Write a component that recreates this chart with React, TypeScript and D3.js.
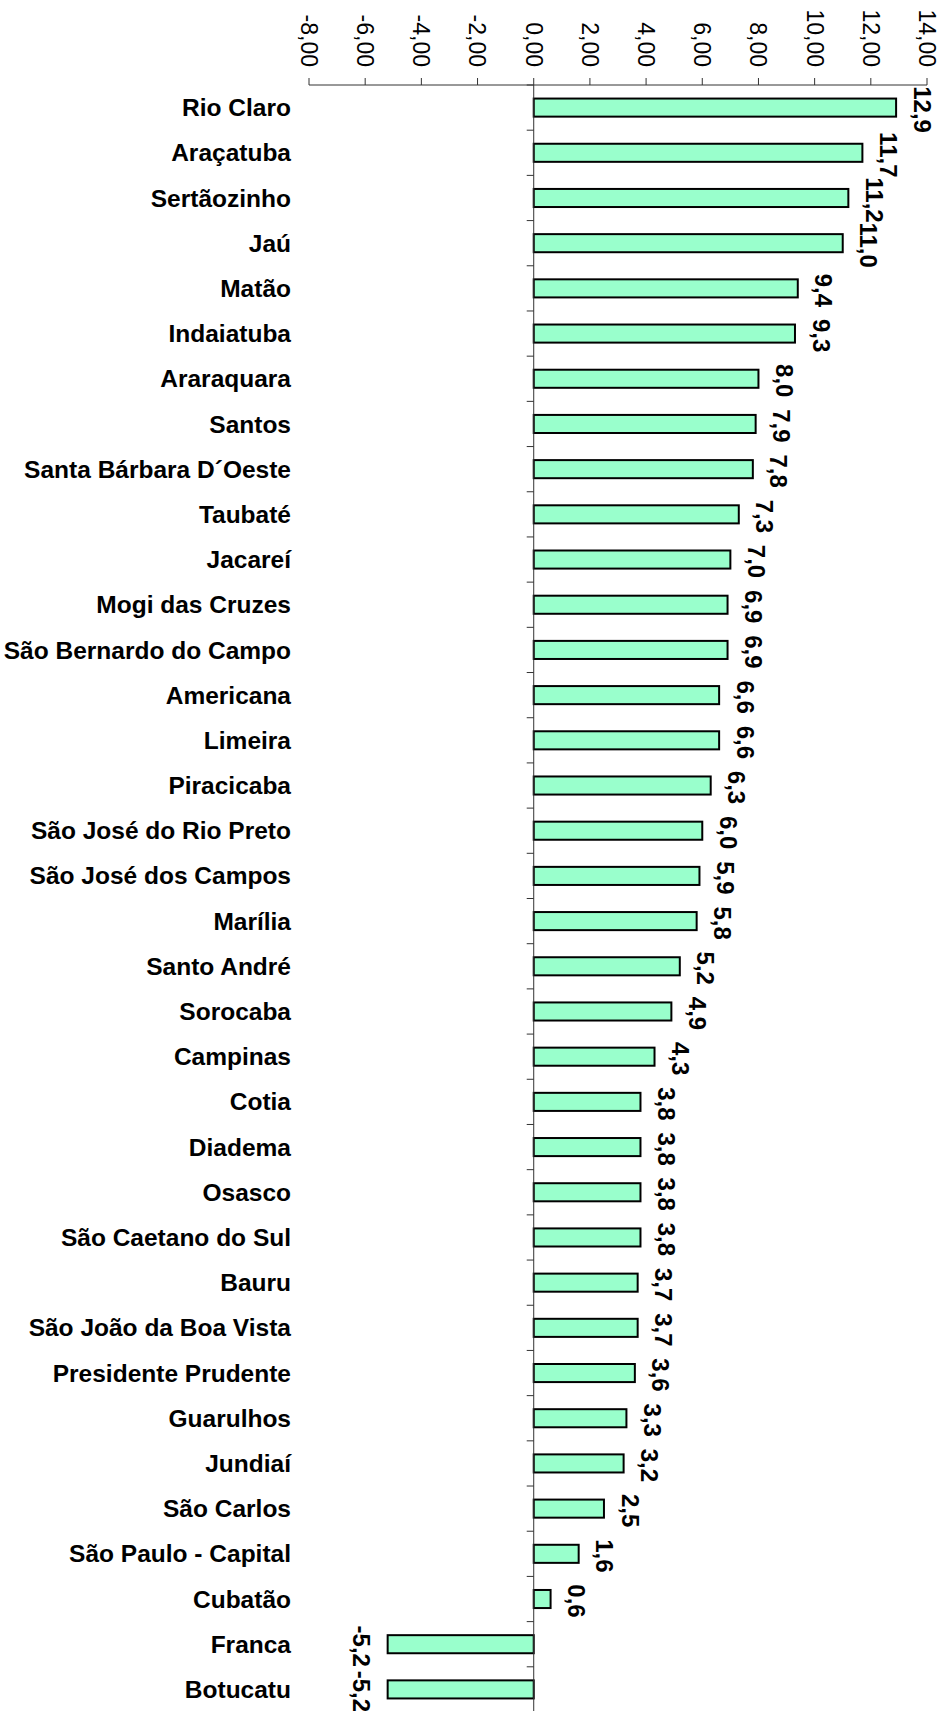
import { useEffect, useRef } from "react";
import * as d3 from "d3";

const cities = [
  "Rio Claro", "Araçatuba", "Sertãozinho", "Jaú", "Matão", "Indaiatuba", "Araraquara",
  "Santos", "Santa Bárbara D´Oeste", "Taubaté", "Jacareí", "Mogi das Cruzes",
  "São Bernardo do Campo", "Americana", "Limeira", "Piracicaba", "São José do Rio Preto",
  "São José dos Campos", "Marília", "Santo André", "Sorocaba", "Campinas", "Cotia",
  "Diadema", "Osasco", "São Caetano do Sul", "Bauru", "São João da Boa Vista",
  "Presidente Prudente", "Guarulhos", "Jundiaí", "São Carlos", "São Paulo - Capital",
  "Cubatão", "Franca", "Botucatu",
];

const values = [
  12.9, 11.7, 11.2, 11.0, 9.4, 9.3, 8.0, 7.9, 7.8, 7.3, 7.0, 6.9, 6.9, 6.6, 6.6, 6.3,
  6.0, 5.9, 5.8, 5.2, 4.9, 4.3, 3.8, 3.8, 3.8, 3.8, 3.7, 3.7, 3.6, 3.3, 3.2, 2.5, 1.6,
  0.6, -5.2, -5.2,
];

const xTicks = [-8, -6, -4, -2, 0, 2, 4, 6, 8, 10, 12, 14];

const FONT = "'Liberation Sans', Arial, Helvetica, sans-serif";

const App = () => {
  const ref = useRef<SVGSVGElement>(null);

  useEffect(() => {
    document.body.style.margin = "0";
    const el = ref.current;
    if (!el) return;
    const svg = d3.select(el);
    svg.selectAll("*").remove();

    const W = 949, H = 1711;
    const top = 85, bottom = 1712;

    const x = d3.scaleLinear().domain([-8, 14]).range([309, 927]);
    const y = d3.scaleBand<string>()
      .domain(cities)
      .range([top, bottom])
      .paddingInner(0.6)
      .paddingOuter(0.3);

    const data = cities.map((c, i) => ({ city: c, v: values[i] }));

    // bars
    svg.append("g")
      .selectAll("rect")
      .data(data)
      .enter()
      .append("rect")
      .attr("x", d => Math.min(x(0), x(d.v)))
      .attr("y", d => y(d.city)!)
      .attr("width", d => Math.abs(x(d.v) - x(0)))
      .attr("height", y.bandwidth())
      .attr("fill", "#99FFCC")
      .attr("stroke", "#000")
      .attr("stroke-width", 2);

    // top value axis
    const axisCol = "#333";
    const ax = svg.append("g");
    ax.append("line")
      .attr("x1", x(-8)).attr("x2", x(14))
      .attr("y1", top).attr("y2", top)
      .attr("stroke", axisCol).attr("stroke-width", 1);
    ax.selectAll(".tk")
      .data(xTicks)
      .enter()
      .append("line")
      .attr("x1", d => x(d)).attr("x2", d => x(d))
      .attr("y1", top).attr("y2", top - 7)
      .attr("stroke", axisCol);
    ax.selectAll(".tl")
      .data(xTicks)
      .enter()
      .append("text")
      .attr("transform", d => `translate(${x(d)},67) rotate(90)`)
      .attr("text-anchor", "end")
      .attr("dy", "0.35em")
      .style("font-family", FONT)
      .style("font-size", "23px")
      .style("fill", "#000")
      .text(d => d.toFixed(2).replace(".", ","));

    // category axis at zero
    const cy = svg.append("g");
    cy.append("line")
      .attr("x1", x(0)).attr("x2", x(0))
      .attr("y1", top).attr("y2", H)
      .attr("stroke", axisCol);
    const step = y.step();
    cy.selectAll(".ct")
      .data(d3.range(cities.length + 1))
      .enter()
      .append("line")
      .attr("x1", x(0) - 7).attr("x2", x(0))
      .attr("y1", i => top + i * step).attr("y2", i => top + i * step)
      .attr("stroke", axisCol);

    // category labels
    svg.append("g")
      .selectAll("text")
      .data(data)
      .enter()
      .append("text")
      .attr("x", 291)
      .attr("y", d => y(d.city)! + y.bandwidth() / 2)
      .attr("dy", "0.35em")
      .attr("text-anchor", "end")
      .style("font-family", FONT)
      .style("font-size", "24.5px")
      .style("font-weight", "700")
      .style("fill", "#000")
      .text(d => d.city);

    // value labels
    svg.append("g")
      .selectAll("text")
      .data(data)
      .enter()
      .append("text")
      .attr("transform", d =>
        `translate(${x(d.v) + (d.v < 0 ? -26 : 26)},${y(d.city)! + y.bandwidth() / 2 + 2}) rotate(90)`)
      .attr("text-anchor", "middle")
      .attr("dy", "0.35em")
      .style("font-family", FONT)
      .style("font-size", "24px")
      .style("font-weight", "700")
      .style("fill", "#000")
      .text(d => d.v.toFixed(1).replace(".", ","));

    svg.attr("width", W).attr("height", H);
  }, []);

  return <svg ref={ref} width={949} height={1711} style={{ display: "block", background: "#fff" }} />;
};

export default App;
